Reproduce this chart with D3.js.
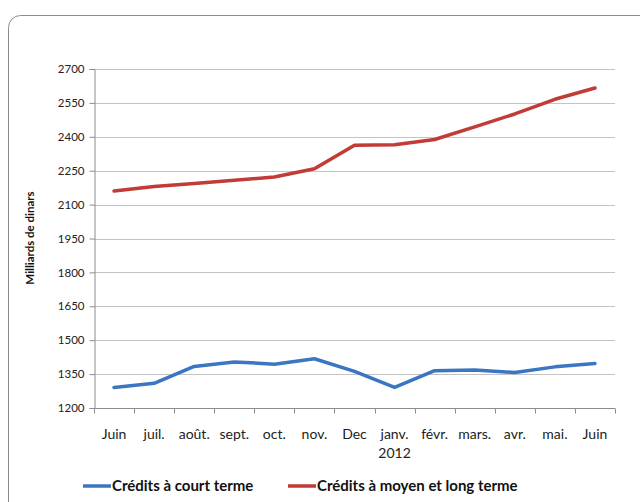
<!DOCTYPE html>
<html><head><meta charset="utf-8">
<script src="https://cdn.jsdelivr.net/npm/d3@7"></script>
<style>body{margin:0;background:#fff}svg{display:block;font-family:Lato,"Open Sans",sans-serif}</style>
</head><body><svg id="c" width="640" height="502"></svg>
<script>
const categories = ["Juin","juil.","août.","sept.","oct.","nov.","Dec","janv.","févr.","mars.","avr.","mai.","Juin"];
const courtTerme = [1291,1309,1384,1404,1394,1418,1362,1291,1365,1368,1357,1382,1397];
const moyenLongTerme = [2160,2180,2193,2208,2222,2259,2363,2365,2388,2444,2501,2566,2616];
const yTicks = [1200,1350,1500,1650,1800,1950,2100,2250,2400,2550,2700];
const seriesNames = ["Crédits à court terme","Crédits à moyen et long terme"];
const colors = ["#3b76c2","#c13b37"];

const svg = d3.select("#c");
svg.append("rect").attr("x",8.5).attr("y",15.5).attr("width",650).attr("height",520)
  .attr("rx",12).attr("fill","#fff").attr("stroke","#8c8c8c").attr("stroke-width",1);

const L=94, R=615, T=69, B=408;
const x = d3.scaleBand().domain(d3.range(categories.length)).range([L,R]);
const y = d3.scaleLinear().domain([1200,2700]).range([B,T]);

// gridlines
svg.append("g").selectAll("line").data(yTicks.slice(1)).join("line")
  .attr("x1",L).attr("x2",R).attr("y1",d=>Math.round(y(d))+0.5).attr("y2",d=>Math.round(y(d))+0.5)
  .attr("stroke","#c4c4c4").attr("stroke-width",1);

// y axis
const ya = svg.append("g").attr("transform",`translate(${L+0.5},0)`)
  .call(d3.axisLeft(y).tickValues(yTicks).tickSize(5).tickPadding(5).tickFormat(d3.format("d")));
ya.select(".domain").attr("stroke","#8c8c8c");
ya.selectAll(".tick line").attr("stroke","#8c8c8c");
ya.selectAll(".tick text").attr("font-size",11.5).attr("fill","#222").attr("font-family","Lato,sans-serif");

// x axis
const xa = svg.append("g").attr("transform",`translate(0,${B+0.5})`);
xa.append("line").attr("x1",L).attr("x2",R).attr("stroke","#8c8c8c");
xa.selectAll("line.t").data(d3.range(categories.length+1)).join("line").attr("class","t")
  .attr("x1",i=>Math.round(L+i*x.step())+0.5).attr("x2",i=>Math.round(L+i*x.step())+0.5)
  .attr("y1",0).attr("y2",5).attr("stroke","#8c8c8c");
xa.selectAll("text").data(categories).join("text")
  .attr("x",(d,i)=>x(i)+x.bandwidth()/2).attr("y",30).attr("text-anchor","middle")
  .attr("font-size",14).attr("fill","#222").text(d=>d);
svg.append("text").attr("x",x(7)+x.bandwidth()/2).attr("y",458).attr("text-anchor","middle")
  .attr("font-size",14).attr("fill","#222").text("2012");

// y label
svg.append("text").attr("transform","translate(34,238) rotate(-90)").attr("text-anchor","middle")
  .attr("font-size",11.5).attr("font-weight","bold").attr("fill","#111").text("Milliards de dinars");

// lines
const line = d3.line().x((d,i)=>x(i)+x.bandwidth()/2).y(d=>y(d));
[courtTerme, moyenLongTerme].forEach((s,k)=>{
  svg.append("path").datum(s).attr("d",line).attr("fill","none")
    .attr("stroke",colors[k]).attr("stroke-width",3.5).attr("stroke-linejoin","round").attr("stroke-linecap","round");
});

// legend
const lg = [{x:83},{x:288}];
seriesNames.forEach((n,k)=>{
  const g = svg.append("g").attr("transform",`translate(${lg[k].x},486)`);
  g.append("line").attr("x1",0).attr("x2",28).attr("y1",0).attr("y2",0).attr("stroke",colors[k]).attr("stroke-width",3.5);
  g.append("text").attr("x",29).attr("y",5).attr("font-size",15).attr("font-weight","bold").attr("fill","#111").text(n);
});
</script></body></html>
